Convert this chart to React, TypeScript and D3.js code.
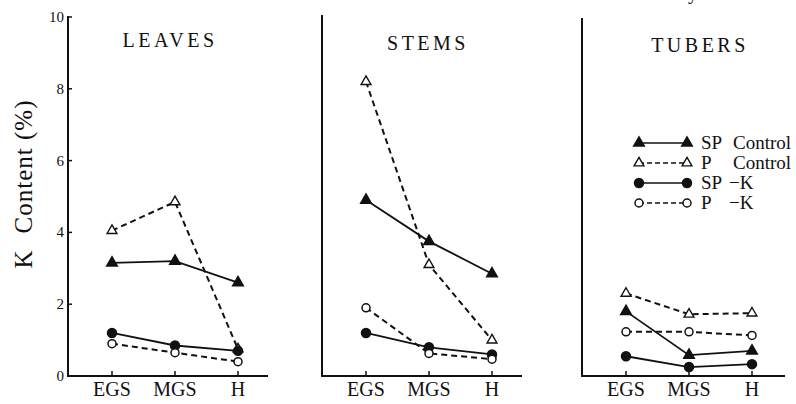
import React from "react";
import * as d3 from "d3";

const stages = ["EGS", "MGS", "H"];
const panels = ["LEAVES", "STEMS", "TUBERS"];
const yTicks = [0, 2, 4, 6, 8, 10];

const seriesNames = ["SP Control", "P Control", "SP −K", "P −K"];
const seriesLabelA = ["SP", "P", "SP", "P"];
const seriesLabelB = ["Control", "Control", "−K", "−K"];

// values per panel: [LEAVES, STEMS, TUBERS], each [EGS, MGS, H]
const spControl = [
  [3.15, 3.2, 2.6],
  [4.9, 3.75, 2.85],
  [1.8, 0.58, 0.7],
];
const pControl = [
  [4.05, 4.85, 0.75],
  [8.2, 3.1, 1.0],
  [2.3, 1.72, 1.75],
];
const spMinusK = [
  [1.2, 0.85, 0.7],
  [1.2, 0.8, 0.6],
  [0.55, 0.25, 0.33],
];
const pMinusK = [
  [0.9, 0.65, 0.4],
  [1.9, 0.63, 0.47],
  [1.23, 1.23, 1.13],
];

const seriesData = [spControl, pControl, spMinusK, pMinusK];
const seriesStyle = [
  { shape: "tri", filled: true, dashed: false },
  { shape: "tri", filled: false, dashed: true },
  { shape: "circle", filled: true, dashed: false },
  { shape: "circle", filled: false, dashed: true },
];

const panelX0 = [68, 322, 582];
const panelTop = [16, 15, 18];
const titlePos = [
  { x: 170, y: 47 },
  { x: 428, y: 50 },
  { x: 700, y: 52 },
];

const FONT = "Liberation Serif, Times New Roman, DejaVu Serif, serif";
const TS = { fontFamily: FONT };

function Marker({ x, y, shape, filled }: any) {
  if (shape === "circle") {
    return (
      <circle
        cx={x}
        cy={y}
        r={filled ? 4.5 : 4}
        fill={filled ? "#111" : "#fff"}
        stroke="#111"
        strokeWidth={1.5}
      />
    );
  }
  const p = d3.symbol().type(d3.symbolTriangle).size(filled ? 50 : 42)();
  return (
    <path
      d={p || ""}
      transform={`translate(${x},${y})`}
      fill={filled ? "#111" : "#fff"}
      stroke="#111"
      strokeWidth={1.4}
    />
  );
}

export default function App() {
  const y = d3.scaleLinear().domain([0, 10]).range([376, 17]);

  return (
    <svg
      width={796}
      height={404}
      style={{ position: "absolute", left: 0, top: 0, background: "#fff" }}
    >
      <rect width={796} height={404} fill="#fff" />
      {/* fragment of caption at top */}
      <text x={688} y={-1} fontSize={20} fill="#111" style={TS}>y</text>

      {/* y axis label */}
      <text
        transform={`translate(32,184) rotate(-90)`}
        textAnchor="middle"
        fontSize={25}
        letterSpacing={1}
        fill="#111"
        style={TS}
      >
        <tspan>K</tspan>
        <tspan dx={16}>Content (%)</tspan>
      </text>

      {panels.map((name, pi) => {
        const x0 = panelX0[pi];
        const x = d3
          .scalePoint<string>()
          .domain(stages)
          .range([x0 + 44, x0 + 170]);
        const line = d3
          .line<number>()
          .x((_, i) => x(stages[i]) as number)
          .y((v) => y(v));
        return (
          <g key={name}>
            {/* axes */}
            <line x1={x0} x2={x0} y1={panelTop[pi]} y2={377} stroke="#111" strokeWidth={2} />
            <line x1={x0 - 1} x2={x0 + (pi === 2 ? 203 : 200)} y1={376} y2={376} stroke="#111" strokeWidth={2} />
            {stages.map((s) => (
              <g key={s}>
                <line
                  x1={x(s)}
                  x2={x(s)}
                  y1={371}
                  y2={376}
                  stroke="#111"
                  strokeWidth={1.5}
                />
                <text
                  x={x(s)}
                  y={396}
                  textAnchor="middle"
                  fontSize={20}
                  fill="#111"
                  style={TS}
                >
                  {s}
                </text>
              </g>
            ))}
            {pi === 0 &&
              yTicks.map((t) => (
                <g key={t}>
                  {t > 0 && (
                    <line x1={x0} x2={x0 + 4} y1={y(t)} y2={y(t)} stroke="#111" strokeWidth={1.5} />
                  )}
                  <text
                    x={x0 - 4}
                    y={y(t) + 5}
                    textAnchor="end"
                    fontSize={15}
                    fill="#111"
                    style={TS}
                  >
                    {t}
                  </text>
                </g>
              ))}
            <text
              x={titlePos[pi].x}
              y={titlePos[pi].y}
              textAnchor="middle"
              fontSize={20}
              letterSpacing={3.5}
              fill="#111"
              style={TS}
            >
              {name}
            </text>

            {seriesData.map((sd, si) => {
              const vals = sd[pi];
              const st = seriesStyle[si];
              return (
                <g key={si}>
                  <path
                    d={line(vals) || ""}
                    fill="none"
                    stroke="#111"
                    strokeWidth={st.dashed ? 2 : 1.8}
                    strokeDasharray={st.dashed ? "6,4" : undefined}
                  />
                  {vals.map((v, i) => (
                    <Marker
                      key={i}
                      x={x(stages[i])}
                      y={y(v)}
                      shape={st.shape}
                      filled={st.filled}
                    />
                  ))}
                </g>
              );
            })}
          </g>
        );
      })}

      {/* legend */}
      {seriesNames.map((n, i) => {
        const ly = 143 + i * 20;
        const st = seriesStyle[i];
        return (
          <g key={n}>
            <line
              x1={639}
              x2={687}
              y1={ly}
              y2={ly}
              stroke="#111"
              strokeWidth={1.5}
              strokeDasharray={st.dashed ? "5,3" : undefined}
            />
            <Marker x={639} y={ly} shape={st.shape} filled={st.filled} />
            <Marker x={687} y={ly} shape={st.shape} filled={st.filled} />
            <text x={701} y={ly + 6} fontSize={19} fill="#111" style={TS}>
              {seriesLabelA[i]}
            </text>
            <text x={i < 2 ? 733 : 729} y={ly + 6} fontSize={19} fill="#111" style={TS}>
              {seriesLabelB[i]}
            </text>
          </g>
        );
      })}
    </svg>
  );
}
